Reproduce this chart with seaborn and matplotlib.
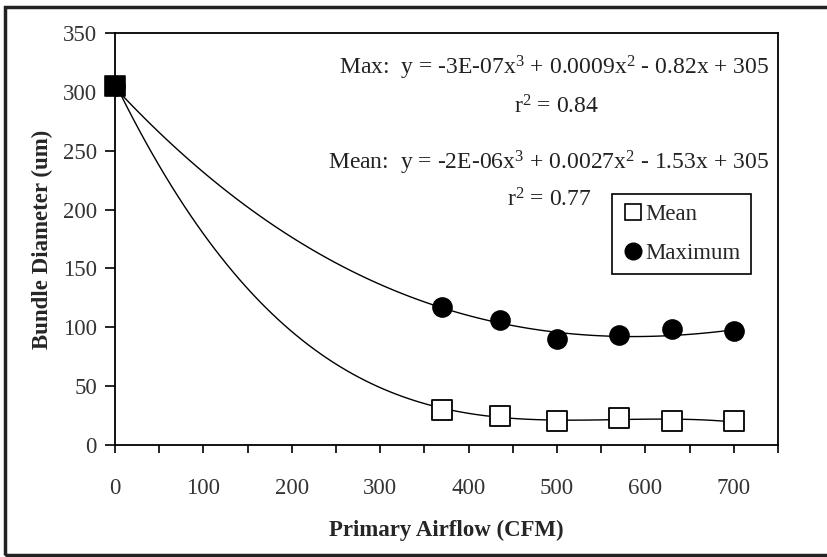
import numpy as np
import pandas as pd
import matplotlib
matplotlib.use("Agg")
import matplotlib.pyplot as plt
import seaborn as sns
from matplotlib.ticker import MultipleLocator
from matplotlib.lines import Line2D

# data
airflow = [0, 370, 435, 500, 570, 630, 700]
mean_diam = [305, 29.5, 25, 20.5, 23, 20.5, 20.5]
max_diam = [305, 117, 106, 90, 93.5, 98.5, 97]

# points read along the two drawn cubic trendlines
mean_trend_x = [0, 9, 70, 102, 153, 210, 266, 323, 370, 435, 500, 570, 630, 700]
mean_trend_y = [305, 296, 217, 174, 129, 89, 64, 42.5, 30, 24, 21, 22, 21, 20]
max_trend_x = [0, 9, 70, 145, 202, 221, 266, 323, 361, 435, 467, 500, 550, 600, 652, 700]
max_trend_y = [305, 296, 251, 203, 174, 167.5, 149, 132, 119, 106, 96, 95, 92, 92, 95, 98]

max_eq = r"Max:  y = -3E-07x$^3$ + 0.0009x$^2$ - 0.82x + 305"
max_r2 = r"r$^2$ = 0.84"
mean_eq = r"Mean:  y = -2E-06x$^3$ + 0.0027x$^2$ - 1.53x + 305"
mean_r2 = r"r$^2$ = 0.77"

df = pd.DataFrame({"airflow": airflow, "Mean": mean_diam, "Maximum": max_diam})

sns.set_style("ticks")
plt.rcParams["font.family"] = ["Liberation Serif", "DejaVu Serif"]
plt.rcParams["mathtext.fontset"] = "custom"
plt.rcParams["mathtext.rm"] = "Liberation Serif"
plt.rcParams["mathtext.it"] = "Liberation Serif:italic"
plt.rcParams["mathtext.bf"] = "Liberation Serif:bold"

FS = 16.5
EQ_FS = 17

fig = plt.figure(figsize=(8.28, 5.57), dpi=100)
ax = fig.add_axes([115 / 828, 1 - 445 / 557, 663 / 828, 412 / 557])

# cubic trendlines
line_kw = dict(color="black", lw=1.0)
sns.regplot(x=max_trend_x, y=max_trend_y, order=3, scatter=False, ci=None,
            truncate=True, line_kws=line_kw, ax=ax)
sns.regplot(x=mean_trend_x, y=mean_trend_y, order=3, scatter=False, ci=None,
            truncate=True, line_kws=line_kw, ax=ax)

sns.scatterplot(data=df, x="airflow", y="Maximum", marker="o", s=190,
                color="black", edgecolor="black", ax=ax, zorder=3)
sns.scatterplot(data=df[df.airflow > 0], x="airflow", y="Mean", marker="s", s=190,
                facecolor="white", edgecolor="black", linewidth=1.3, ax=ax, zorder=3)
sns.scatterplot(data=df[df.airflow == 0], x="airflow", y="Mean", marker="s", s=220,
                color="black", edgecolor="black", ax=ax, zorder=4, clip_on=False)

ax.set_xlim(0, 750)
ax.set_ylim(0, 350)
ax.set_xticks([0, 100, 200, 300, 400, 500, 600, 700])
ax.xaxis.set_minor_locator(MultipleLocator(50))
ax.yaxis.set_major_locator(MultipleLocator(50))
ax.tick_params(axis="x", which="both", direction="out", length=6, width=1.2,
               pad=18, labelsize=FS, colors="black", labelcolor="#333333")
ax.tick_params(axis="y", direction="out", length=7, width=1.2, pad=6,
               labelsize=FS, colors="black", labelcolor="#333333")
for s in ax.spines.values():
    s.set_linewidth(1.3)
    s.set_color("black")
ax.set_xlabel("Primary Airflow (CFM)", fontsize=FS, fontweight="bold", labelpad=15)
ax.set_ylabel("Bundle Diameter (um)", fontsize=FS, fontweight="bold", labelpad=7)

ax.text(740, 320.6, max_eq, ha="right", va="center", fontsize=EQ_FS, color="#222222")
ax.text(499, 287.4, max_r2, ha="center", va="center", fontsize=EQ_FS, color="#222222")
ax.text(740, 239.8, mean_eq, ha="right", va="center", fontsize=EQ_FS, color="#222222")
ax.text(491, 208.3, mean_r2, ha="center", va="center", fontsize=EQ_FS, color="#222222")

handles = [
    Line2D([], [], marker="s", ls="none", markersize=11, markerfacecolor="white",
           markeredgecolor="black", markeredgewidth=1.2),
    Line2D([], [], marker="o", ls="none", markersize=12, color="black"),
]
leg = ax.legend(handles, ["Mean", "Maximum"], loc="upper left",
                bbox_to_anchor=((612 - 115) / 663, (445 - 194) / 412), fontsize=FS,
                frameon=True, fancybox=False, edgecolor="black", framealpha=1,
                handletextpad=0.1, handlelength=0.9, borderpad=0.45,
                labelspacing=0.75, borderaxespad=0)
leg.get_frame().set_linewidth(1.2)

# outer border of the figure
fig.patches.append(plt.Rectangle((5 / 828, 2 / 557), 1.0, 548 / 557, fill=False,
                                 edgecolor="#222222", lw=2.5,
                                 transform=fig.transFigure, figure=fig))

fig.savefig("out.png", dpi=100)
